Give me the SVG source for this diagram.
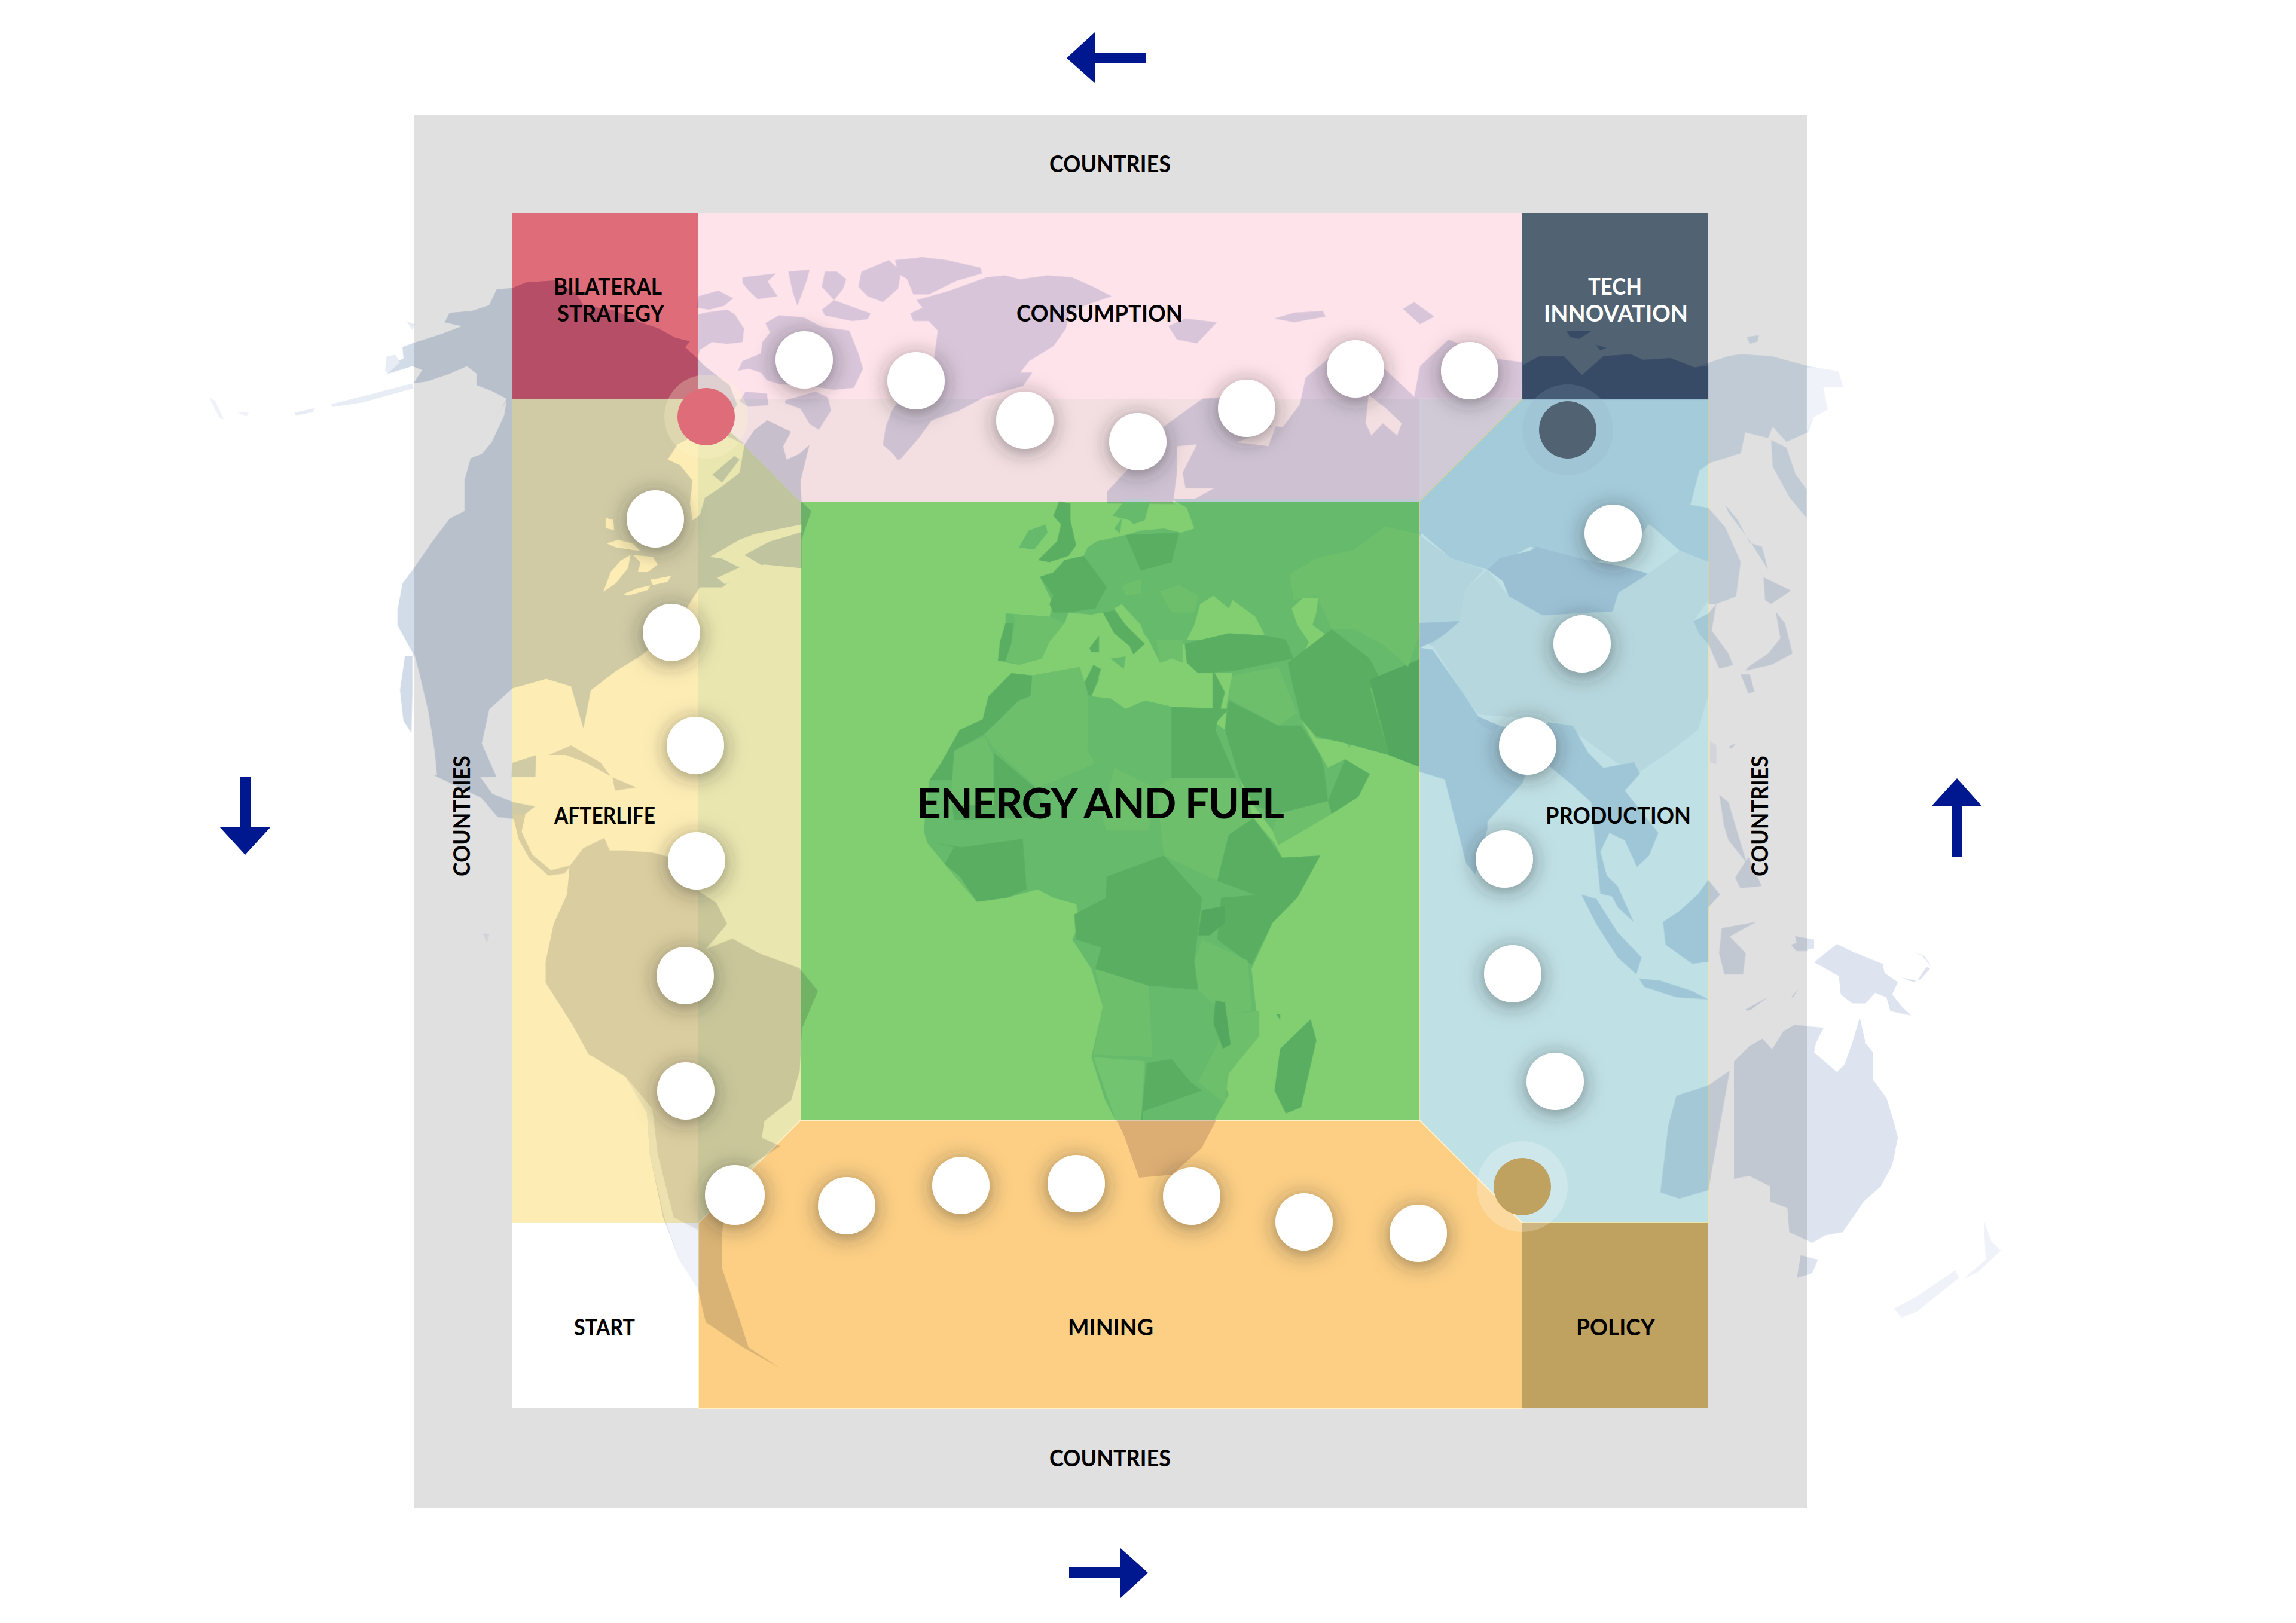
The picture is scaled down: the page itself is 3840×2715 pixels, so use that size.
<svg xmlns="http://www.w3.org/2000/svg" width="3840" height="2715" viewBox="0 0 3840 2715">
<defs>
<style>
text{font-family:"Lato","Liberation Sans",sans-serif;font-weight:700;font-size:38px;fill:#000}
.na{fill:#d2dbe8}.gl{fill:#d9deed}.sa{fill:#dcdde0}.ru{fill:#dbe7f3}.li{fill:#e0f2fa}.mi{fill:#c8e5ef}.da{fill:#aed7d9}.dk{fill:#a2ced2}.w{fill:#fff}.au{fill:#dde4f0}.nz{fill:#eff2f8}.fa{fill:#e8edf5}.cn{fill:#f3f5f7}.kz{fill:#edf2f7}.in{fill:#d4e2f0}.mn{fill:#cfdbec}.ml{fill:#d6ecf2}
.dot{fill:#fff;filter:url(#sh)}
</style>
<filter id="sh" x="-100%" y="-100%" width="300%" height="300%"><feDropShadow dx="0" dy="5" stdDeviation="17" flood-color="#2a2a2a" flood-opacity=".5"/></filter>
</defs>
<rect width="3840" height="2715" fill="#fff"/>
<g id="node-countries"><rect x="692" y="192" width="2330" height="2330" fill="#e0e0e0"/>
<text x="1755" y="288" textLength="203" lengthAdjust="spacingAndGlyphs">COUNTRIES</text>
<text x="1755" y="2453" textLength="203" lengthAdjust="spacingAndGlyphs">COUNTRIES</text>
<text transform="translate(786,1466) rotate(-90)" textLength="202" lengthAdjust="spacingAndGlyphs">COUNTRIES</text>
<text transform="translate(2957,1466) rotate(-90)" textLength="202" lengthAdjust="spacingAndGlyphs">COUNTRIES</text></g>
<g id="node-afterlife"><polygon points="857,667 1168,667 1339,839 1339,1874 1168,2046 857,2046" fill="#fdedb5" stroke="#f8efb8" stroke-width="2"/><polygon points="1168,667 1339,839 1339,1874 1168,2046" fill="#e9e6b0"/><text x="927" y="1378" textLength="169" lengthAdjust="spacingAndGlyphs">AFTERLIFE</text></g>
<g id="node-consumption"><polygon points="1167,357 2546,357 2546,667 2374,839 1339,839 1167,667" fill="#fee3ea"/><polygon points="1167,667 2546,667 2374,839 1339,839" fill="#f3dfe2"/><text x="1700" y="538" textLength="278" lengthAdjust="spacingAndGlyphs">CONSUMPTION</text></g>
<g id="node-production"><polygon points="2546,667 2857,667 2857,2046 2546,2046 2374,1874 2374,839" fill="#bfe0e5" stroke="#e9e6b0" stroke-width="2"/><text x="2585" y="1378" textLength="243" lengthAdjust="spacingAndGlyphs">PRODUCTION</text></g>
<g id="node-mining"><polygon points="1339,1874 2374,1874 2546,2046 2546,2356 1168,2356 1168,2046" fill="#fccf85" stroke="#fff0c8" stroke-width="2"/><text x="1786" y="2234" textLength="143" lengthAdjust="spacingAndGlyphs">MINING</text></g>
<g id="node-energy"><rect x="1339" y="839" width="1035" height="1035" fill="#82cf72"/><text x="1533" y="1369" textLength="615" lengthAdjust="spacing" style="font-size:71px">ENERGY AND FUEL</text></g>
<g id="node-bilateral"><rect x="857" y="357" width="310" height="310" fill="#df6c79"/><text x="926" y="493" textLength="181" lengthAdjust="spacingAndGlyphs">BILATERAL</text><text x="932" y="538" textLength="179" lengthAdjust="spacingAndGlyphs">STRATEGY</text></g>
<g id="node-tech"><rect x="2546" y="357" width="311" height="310" fill="#516373"/><text x="2656" y="493" textLength="90" lengthAdjust="spacingAndGlyphs" style="fill:#fff">TECH</text><text x="2582" y="538" textLength="241" lengthAdjust="spacingAndGlyphs" style="fill:#fff">INNOVATION</text></g>
<g id="node-start"><rect x="857" y="2046" width="311" height="310" fill="#fff"/><text x="960" y="2234" textLength="102" lengthAdjust="spacingAndGlyphs">START</text></g>
<g id="node-policy"><rect x="2546" y="2046" width="311" height="310" fill="#bfa25f"/><text x="2636" y="2234" textLength="132" lengthAdjust="spacingAndGlyphs">POLICY</text></g>

<g id="map" style="mix-blend-mode:multiply">
<g id="map-nw" transform="translate(300,300) scale(.8291,.6378)">
<polygon class="na" points="672,285 640,288 625,330 590,345 545,350 535,375 570,385 530,405 470,430 450,440 452,470 425,485 420,510 470,490 490,500 472,535 500,530 545,510 580,490 600,510 600,540 630,555 660,575 650,600 620,660 590,720 575,790 575,870 545,890 510,950 473,1020 450,1060 440,1130 440,1170 470,1240 480,1300 500,1400 512,1568 640,1568 610,1480 625,1390 672,1335 700,1325 740,1310 790,1330 815,1440 830,1340 880,1290 930,1250 1000,1180 1030,1110 1050,1070 1095,1070 1145,1020 1180,1010 1255,1020 1255,945 1275,870 1255,845 1253,791 1271,696 1250,720 1225,735 1218,700 1234,662 1186,632 1160,657 1140,695 1100,650 1125,590 1110,540 1060,490 1045,470 1020,440 1030,425 1000,415 965,390 930,375 880,345 815,330 800,300 760,265 700,270"/>
<polygon points="672,575 672,285 700,270 760,265 800,300 815,330 880,345 930,375 965,390 1000,415 1030,425 1020,440 1045,470 1046,575" fill="#cfb8d6"/>
<polygon class="w" points="985,735 1005,695 1035,675 1090,665 1140,695 1130,770 1090,810 1060,835 1050,880 1035,895 1030,850 1035,790 1010,750"/>
<polygon class="na" points="1075,775 1120,725 1130,735 1095,795"/>
<polygon class="w" points="860,888 875,893 877,920 860,915"/>
<polygon class="w" points="862,955 885,945 915,955 930,975 905,970 880,965"/>
<polygon class="w" points="855,1082 870,1030 890,1000 910,985 905,1020 880,1060"/>
<polygon class="w" points="915,985 955,990 965,1010 945,1030 925,1030 930,1005"/>
<polygon class="w" points="895,1088 925,1072 950,1065 945,1077 905,1092"/>
<polygon class="w" points="950,1050 992,1040 985,1056 955,1064"/>
<polygon class="w" points="1070,990 1130,945 1160,930 1255,905 1255,925 1190,950 1140,985 1175,1012 1100,1062 1085,1045 1130,1018 1095,995"/>
<polygon class="w" points="473,1240 485,1300 503,1400 515,1500 520,1568 490,1568 478,1400 470,1300"/>
<polygon class="na" points="455,1250 470,1250 470,1350 468,1452 452,1420 445,1340"/>
<polygon class="fa" points="305,590 360,572 470,535 472,548 370,585 310,597"/>
<polygon class="fa" points="232,612 272,600 270,610 235,620"/>
<polygon class="nz" points="115,610 140,612 135,622"/>
<polygon class="nz" points="60,572 72,580 90,630 80,625"/>
<polygon class="fa" points="418,465 435,460 445,480 420,510 415,500"/>
<polygon class="fa" points="458,372 475,380 470,395"/>
<polygon class="na" points="672,1530 720,1510 718,1568 670,1568"/>
<polygon class="sa" points="745,1510 790,1485 850,1530 870,1565 820,1530 780,1510"/>
<polygon class="w" points="640,620 660,580 655,620 630,690 610,720 570,740 600,690"/>
</g>
<g id="map-arctic" transform="translate(1150,400) scale(.5102,.3189)">
<polygon class="gl" points="35,300 100,270 150,310 120,350 70,370 30,360"/>
<polygon class="gl" points="35,395 60,385 130,370 155,395 185,470 180,540 130,550 80,540 40,580 35,610"/>
<polygon class="gl" points="180,200 290,180 262,222 295,300 230,315 200,270 180,230"/>
<polygon class="gl" points="255,440 300,400 380,410 440,460 530,480 560,600 575,680 545,780 480,790 400,770 300,760 260,740 240,700 200,680 165,690 180,640 240,600 245,540 270,490"/>
<polygon class="gl" points="320,845 420,800 460,830 470,900 430,1000 400,970 370,890 320,860"/>
<polygon class="gl" points="190,800 260,810 265,870 200,880 170,850"/>
<polygon class="gl" points="450,170 490,170 520,210 510,260 480,320 600,390 590,420 540,430 450,400 440,370 480,320 440,250"/>
<polygon class="gl" points="330,170 400,160 390,220 360,350 345,280"/>
<polygon class="gl" points="570,170 660,110 700,170 690,260 640,330 590,300 560,250"/>
<polygon class="gl" points="680,110 770,95 850,110 960,150 965,180 880,220 790,290 740,290 720,210 690,180"/>
<polygon class="gl" points="750,320 860,270 980,200 1040,190 1090,210 1180,190 1260,200 1330,250 1390,300 1300,350 1250,400 1240,470 1200,560 1120,640 1090,700 1130,700 1100,770 970,830 960,840 890,900 800,950 760,1040 700,1150 690,1160 670,1120 640,1080 650,980 670,900 690,850 800,780 810,600 820,480 790,430 740,430 730,390 770,360"/>
<polygon class="gl" points="1040,1040 1080,1020 1110,1050 1075,1072"/>
</g>
<g id="map-n-eurasia" transform="translate(1600,300) scale(.9566,.6378)">
<polygon class="gl" points="262,850 262,820 300,760 330,690 370,640 430,575 480,570 520,640 570,650 600,590 610,520 650,470 700,440 750,500 800,570 810,490 860,420 940,470 990,480 990,860"/>
<polygon class="w" points="385,700 420,695 395,770 400,810 450,810 420,835 395,855 378,850 385,770"/>
<polygon class="w" points="490,690 545,700 560,640 530,665"/>
<polygon class="w" points="720,565 750,600 778,640 770,672 745,640 725,672 715,640"/>
<polygon class="gl" points="555,365 590,350 640,345 645,360 590,375"/>
<polygon class="gl" points="370,385 400,365 455,375 420,430 385,420"/>
<polygon class="gl" points="780,340 800,322 835,360 810,380"/>
</g>
<g id="map-eur-afr" transform="translate(1500,800) scale(.6378,.7015)">
<polygon class="mi" points="375,235 410,225 440,195 490,185 500,165 525,150 600,135 640,125 700,120 745,130 780,120 760,70 720,50 1375,50 1375,690 1290,660 1190,635 1175,670 1240,705 1210,760 1140,800 1000,875 985,840 935,780 890,700 860,600 865,540 880,465 790,465 760,440 755,395 700,400 720,430 690,440 660,385 630,350 590,300 570,310 600,350 650,395 620,420 610,400 570,370 540,320 510,325 450,320 440,345 400,390 380,430 320,445 265,435 285,345 285,322 400,330 410,300"/>
<polygon class="mi" points="565,90 600,50 665,50 650,100 620,110 610,100"/>
<polygon class="da" points="400,200 370,195 420,150 430,110 410,90 425,55 455,60 455,100 470,160 450,185"/>
<polygon class="mi" points="320,165 345,125 390,110 395,130 360,170"/>
<polygon class="mi" points="590,95 570,120 585,132"/>
<polygon class="da" points="505,405 530,375 530,415 510,415"/>
<polygon class="mi" points="560,430 600,425 595,455"/>
<polygon class="w" points="780,350 795,300 830,280 870,310 880,290 940,330 965,375 870,370 800,385 760,385"/>
<polygon class="w" points="1035,310 1065,285 1105,285 1100,320 1090,350 1120,370 1135,400 1135,455 1100,460 1065,420 1080,390 1050,350"/>
<polygon class="w" points="1060,575 1100,620 1180,630 1190,650 1175,670 1130,690 1105,650"/>
<polygon class="w" points="590,300 640,350 650,380 630,350"/>
<polygon class="da" points="285,345 305,345 300,395 285,435 265,435 270,390"/>
<polygon class="ml" points="305,325 400,330 440,345 400,390 380,430 320,445 285,435 300,395 310,345"/>
<polygon class="da" points="375,235 410,225 440,195 490,185 550,260 520,310 450,320 410,320 400,300 410,280"/>
<polygon class="da" points="540,320 570,315 600,350 650,395 620,420 610,400 570,370"/>
<polygon class="da" points="600,135 740,130 720,200 640,220"/>
<polygon class="ml" points="590,255 640,240 640,275 600,280"/>
<polygon class="ml" points="690,270 740,255 790,280 780,320 720,320"/>
<polygon class="ml" points="680,385 750,385 750,440 720,430 690,440"/>
<polygon class="da" points="755,395 800,385 870,370 965,375 1020,385 1040,430 880,460 790,465 760,440"/>
<polygon class="ml" points="880,470 1000,450 1050,560 1000,590 870,525"/>
<polygon class="da" points="1025,440 1140,360 1240,430 1280,500 1240,500 1290,660 1190,635 1100,615 1060,575 1040,500"/>
<polygon class="dk" points="1240,480 1375,430 1375,690 1290,660"/>
<polygon class="ml" points="1030,230 1100,190 1200,170 1280,115 1375,135 1375,360 1340,450 1280,400 1200,360 1140,360 1100,280 1040,290"/>
<polygon class="da" points="870,530 1000,590 1060,590 1110,660 1120,690 1130,770 1000,800 935,780 890,700 860,600"/>
<polygon class="da" points="1175,670 1240,705 1210,760 1140,800 1130,770"/>
<polygon class="ml" points="1000,800 1130,770 1140,800 1000,875 985,840"/>
<polygon class="mi" points="355,470 300,465 240,520 225,575 165,600 115,680 85,720 70,840 80,870 125,920 210,1010 290,1000 370,980 410,1000 470,1015 480,1060 460,1100 510,1170 540,1260 510,1380 545,1480 575,1535 830,1535 870,1470 850,1420 950,1330 930,1170 985,1060 1050,1000 1110,900 1010,905 990,870 935,810 900,720 860,600 830,580 870,550 820,555 720,545 650,530 640,565 600,550 560,525 510,520 530,480 520,445 480,505 480,450"/>
<polygon class="da" points="355,470 300,465 240,520 225,575 165,600 230,610 320,530 350,520"/>
<polygon class="da" points="515,445 535,455 525,485 510,520 482,505"/>
<polygon class="ml" points="230,610 320,530 350,520 355,470 480,450 500,510 500,650 520,680 370,740 250,640"/>
<polygon class="mi" points="505,520 600,550 650,530 720,545 720,720 700,720 570,690 520,680 500,650"/>
<polygon class="da" points="720,545 870,550 830,590 890,715 720,715"/>
<polygon class="da" points="85,720 115,680 165,600 230,610 150,650 145,720"/>
<polygon class="ml" points="145,720 150,650 230,615 250,655 255,780 145,780"/>
<polygon class="da" points="255,655 365,740 400,790 330,810 150,815 145,780 255,780"/>
<polygon class="mi" points="365,740 520,680 570,690 530,810 400,810"/>
<polygon class="ml" points="570,690 680,740 660,840 550,840 540,810"/>
<polygon class="ml" points="715,715 890,715 935,810 870,850 840,960 700,900 680,740"/>
<polygon class="da" points="870,850 935,810 1010,905 1110,900 1050,1000 960,1000 840,960"/>
<polygon class="mi" points="340,830 540,840 560,910 500,960 470,1015 410,1000 370,980 335,960"/>
<polygon class="da" points="125,920 150,880 100,870 170,880 330,860 340,980 290,1000 210,1010"/>
<polygon class="ml" points="125,920 165,950 210,1010"/>
<polygon class="da" points="550,950 700,900 800,1000 780,1150 790,1220 660,1210 520,1170 545,1090"/>
<polygon class="da" points="465,1040 550,1000 570,1060 540,1120 470,1100"/>
<polygon class="da" points="850,1000 1000,990 1050,1000 985,1060 930,1160 840,1100"/>
<polygon class="dk" points="800,1030 860,1020 860,1060 820,1090 790,1090"/>
<polygon class="ml" points="800,1100 920,1150 930,1270 860,1280 790,1220 780,1150"/>
<polygon class="mi" points="665,1210 790,1220 830,1280 780,1310 670,1300"/>
<polygon class="ml" points="520,1170 660,1210 670,1380 515,1375 540,1260"/>
<polygon class="ml" points="860,1280 950,1270 950,1330 870,1420 860,1490 790,1440 840,1350"/>
<polygon class="dk" points="835,1245 860,1250 875,1350 855,1360 830,1300"/>
<polygon class="li" points="515,1380 650,1390 640,1535 575,1535"/>
<polygon class="da" points="655,1395 720,1385 770,1440 800,1460 750,1480 640,1535"/>
<polygon class="mi" points="645,1510 800,1460 850,1500 830,1535 645,1535"/>
<polygon class="da" points="1005,1360 1085,1290 1100,1340 1060,1500 1020,1515 990,1460"/>
<polygon class="da" points="995,1278 1005,1278 1005,1292"/>
<polygon class="da" points="828,455 860,510 835,600 828,600"/>
</g>
<polygon points="1868,1874 1880,1900 1905,1970 1960,1965 2010,1920 2034,1874" fill="#dfd6de"/>
<g id="map-asia" transform="translate(2350,500) scale(.5102,.6378)">
<polygon class="ru" points="380,175 440,150 520,150 580,200 650,150 740,145 780,160 870,155 950,180 1060,150 1100,145 1200,150 1316,175 1345,180 1420,190 1435,230 1370,230 1385,290 1340,310 1320,350 1250,375 1205,335 1190,365 1115,350 1100,405 1000,430 965,450 935,540 994,548 1050,600 1100,690 1085,780 1020,800 994,800 994,690 900,660 800,590 720,680 600,690 410,650 270,710 150,680 48,610 48,260 380,260"/>
<polygon points="385,264 385,175 440,150 520,150 580,200 650,150 740,145 780,160 870,155 950,180 994,175 994,264" fill="#abbfe2"/>
<polygon points="530,85 610,85 570,105 540,100" fill="#abbfe2"/>
<polygon points="625,120 660,128 640,135" fill="#abbfe2"/>
<polygon class="ru" points="1200,370 1250,390 1280,460 1316,490 1316,575 1260,520 1205,440"/>
<polygon class="w" points="1250,375 1320,350 1316,500 1280,460"/>
<polygon class="ru" points="1120,100 1160,95 1155,112 1130,118"/>
<polygon class="nz" points="1316,180 1345,180 1420,190 1435,230 1370,230 1385,290 1340,310 1316,350"/>
<polygon class="ru" points="1050,540 1090,580 1130,640 1170,650 1190,710 1130,635 1060,560"/>
<polygon class="kz" points="48,620 150,680 260,710 200,760 180,840 90,910 48,900"/>
<polygon class="mn" points="270,710 310,680 410,660 430,650 570,680 700,700 795,720 750,760 700,770 680,820 450,830 340,780 320,740"/>
<polygon class="cn" points="90,910 180,840 200,760 270,710 340,780 450,830 680,820 700,770 800,720 900,660 994,690 994,790 950,840 994,900 994,1040 960,1130 880,1180 770,1240 700,1220 580,1150 500,1110 400,1100 240,1090 195,1040"/>
<polygon class="mn" points="48,850 180,845 130,880 90,900 48,915"/>
<polygon class="in" points="48,915 90,920 195,1040 240,1095 310,1120 420,1140 470,1110 480,1230 420,1190 385,1270 270,1370 270,1390 230,1510 200,1480 130,1260 48,1240"/>
<polygon class="mn" points="240,1095 310,1120 280,1132 235,1110"/>
<polygon class="in" points="470,1110 550,1120 600,1190 650,1230 750,1215 770,1245 720,1290 830,1400 800,1460 760,1490 720,1420 670,1400 640,1450 680,1568 640,1560 610,1320 540,1270 480,1230"/>
<polygon class="au" points="945,845 994,825 1020,800 1005,870 1060,930 1075,960 1030,970 994,905 965,880"/>
<polygon class="au" points="1175,730 1265,765 1200,800 1180,790"/>
<polygon class="au" points="1215,820 1245,850 1270,930 1200,960 1115,975 1125,965 1190,930 1230,890"/>
<polygon class="au" points="1100,985 1130,985 1145,1030 1125,1035"/>
<polygon class="nz" points="1000,1160 1020,1170 1020,1220 1000,1215"/>
<polygon class="au" points="1030,1300 1060,1320 1090,1400 1120,1480 1060,1420 1045,1380"/>
<polygon class="au" points="1060,1175 1085,1165 1070,1180"/>
</g>
<g id="map-se-asia" transform="translate(2000,1300) scale(.8929,.7015)">
<polygon class="in" points="722,280 750,290 790,370 835,430 825,470 790,430 750,350"/>
<polygon class="in" points="750,210 790,260 820,345 790,310 770,260"/>
<polygon class="in" points="960,245 982,280 960,310 960,440 930,445 880,400 875,345 905,320 940,280"/>
<polygon class="in" points="830,480 870,485 930,510 960,530 900,525 840,500"/>
<polygon class="au" points="985,360 1050,345 1000,380 1030,420 1025,470 990,470 980,420"/>
<polygon class="au" points="1010,240 1035,190 1060,260 1020,265"/>
<polygon class="au" points="1030,555 1070,525 1040,555"/>
<polygon class="au" points="1115,400 1145,385 1145,415 1125,415"/>
<polygon class="au" points="960,735 900,760 885,830 870,990 905,1005 960,985 1000,700"/>
</g>
<g id="map-oceania" transform="translate(2900,1500) scale(.6378,.5102)">
<polygon class="au" points="210,215 270,155 310,180 390,220 395,250 430,280 415,320 440,360 465,390 410,375 400,330 370,315 345,350 310,350 280,320 275,260"/>
<polygon class="au" points="160,130 210,140 210,170 170,175"/>
<polygon class="au" points="440,265 480,275 505,230 515,235 490,270 470,280"/>
<polygon class="au" points="470,180 500,195 520,235 495,195"/>
<polygon class="au" points="0,540 40,490 75,465 100,500 130,440 160,420 235,430 215,480 210,510 270,575 290,550 310,480 330,395 345,480 365,510 365,600 400,660 415,720 430,790 415,880 385,950 340,1000 285,1100 240,1110 205,1135 180,1120 145,1100 140,1020 95,1000 95,950 40,915 0,925"/>
<polygon class="au" points="175,1175 220,1190 205,1235 165,1250"/>
<polygon class="au" points="30,370 90,330 60,355 35,375"/>
<polygon class="au" points="150,330 170,300 155,330"/>
<polygon class="nz" points="600,1255 660,1190 655,1060 675,1130 700,1160 640,1230"/>
<polygon class="nz" points="420,1350 480,1310 580,1225 590,1250 480,1360 440,1380"/>
</g>
<g id="map-americas" transform="translate(600,1300) scale(.8929,.7015)">
<polygon class="na" points="140,-5 230,50 260,95 292,100 310,90 330,70 290,60 250,40 225,-5"/>
<polygon class="sa" points="288,88 312,90 305,130 325,185 360,222 398,210 385,230 355,235 320,195 300,150"/>
<polygon class="sa" points="475,0 520,25 480,32"/>
<polygon class="nz" points="232,372 245,375 240,395"/>
<polygon class="sa" points="395,212 420,170 460,145 470,175 500,175 550,180 580,190 640,275 670,300 690,350 650,410 700,385 750,420 825,455 860,510 830,600 826,700 810,770 760,820 755,860 790,880 740,920 690,960 680,1100 680,1170 710,1280 730,1360 790,1410 720,1360 650,1300 635,1220 600,1150 570,1050 545,900 540,800 500,715 430,660 400,590 350,490 350,440 365,350 390,280"/>
<polygon class="w" points="760,820 755,860 790,880 830,820"/>
<polygon class="nz" points="500,715 540,800 545,900 572,1050 600,1150 635,1220 636,1080 590,1050 560,900 550,790"/>
</g>
</g>

<g id="node-step-1"><circle cx="1181" cy="697" r="70" fill="#fff3c8" opacity=".28"/><circle cx="1181" cy="697" r="48" fill="#df6c79"/></g>
<g id="node-step-2"><circle class="dot" cx="1345" cy="602" r="48"/></g>
<g id="node-step-3"><circle class="dot" cx="1532" cy="637" r="48"/></g>
<g id="node-step-4"><circle class="dot" cx="1714" cy="703" r="48"/></g>
<g id="node-step-5"><circle class="dot" cx="1903" cy="739" r="48"/></g>
<g id="node-step-6"><circle class="dot" cx="2085" cy="683" r="48"/></g>
<g id="node-step-7"><circle class="dot" cx="2267" cy="617" r="48"/></g>
<g id="node-step-8"><circle class="dot" cx="2458" cy="620" r="48"/></g>
<g id="node-step-9"><circle cx="2622" cy="719" r="76" fill="#8fb3c8" opacity=".18"/><circle cx="2622" cy="719" r="48" fill="#516373"/></g>
<g id="node-step-10"><circle class="dot" cx="2698" cy="892" r="48"/></g>
<g id="node-step-11"><circle class="dot" cx="2646" cy="1077" r="48"/></g>
<g id="node-step-12"><circle class="dot" cx="2555" cy="1248" r="48"/></g>
<g id="node-step-13"><circle class="dot" cx="2516" cy="1437" r="48"/></g>
<g id="node-step-14"><circle class="dot" cx="2530" cy="1629" r="48"/></g>
<g id="node-step-15"><circle class="dot" cx="2601" cy="1809" r="48"/></g>
<g id="node-step-16"><circle cx="2546" cy="1985" r="76" fill="#fff" opacity=".22"/><circle cx="2546" cy="1985" r="48" fill="#bfa25f"/></g>
<g id="node-step-17"><circle class="dot" cx="2372" cy="2063" r="48"/></g>
<g id="node-step-18"><circle class="dot" cx="2181" cy="2044" r="48"/></g>
<g id="node-step-19"><circle class="dot" cx="1993" cy="2001" r="48"/></g>
<g id="node-step-20"><circle class="dot" cx="1800" cy="1980" r="48"/></g>
<g id="node-step-21"><circle class="dot" cx="1607" cy="1983" r="48"/></g>
<g id="node-step-22"><circle class="dot" cx="1416" cy="2017" r="48"/></g>
<g id="node-step-23"><circle class="dot" cx="1229" cy="1999" r="50"/></g>
<g id="node-step-24"><circle class="dot" cx="1147" cy="1825" r="48"/></g>
<g id="node-step-25"><circle class="dot" cx="1146" cy="1632" r="48"/></g>
<g id="node-step-26"><circle class="dot" cx="1165" cy="1440" r="48"/></g>
<g id="node-step-27"><circle class="dot" cx="1163" cy="1247" r="48"/></g>
<g id="node-step-28"><circle class="dot" cx="1123" cy="1058" r="48"/></g>
<g id="node-step-29"><circle class="dot" cx="1096" cy="868" r="48"/></g>

<g id="connectors" fill="#00188f">
<polygon points="1784,97 1831,54 1831,88 1916,88 1916,105 1831,105 1831,139"/>
<polygon points="1920,2631 1873,2589 1873,2622 1788,2622 1788,2640 1873,2640 1873,2674"/>
<polygon points="410,1430 367,1383 402,1383 402,1299 419,1299 419,1383 453,1383"/>
<polygon points="3273,1302 3230,1349 3264,1349 3264,1433 3282,1433 3282,1349 3315,1349"/>
</g>
</svg>
